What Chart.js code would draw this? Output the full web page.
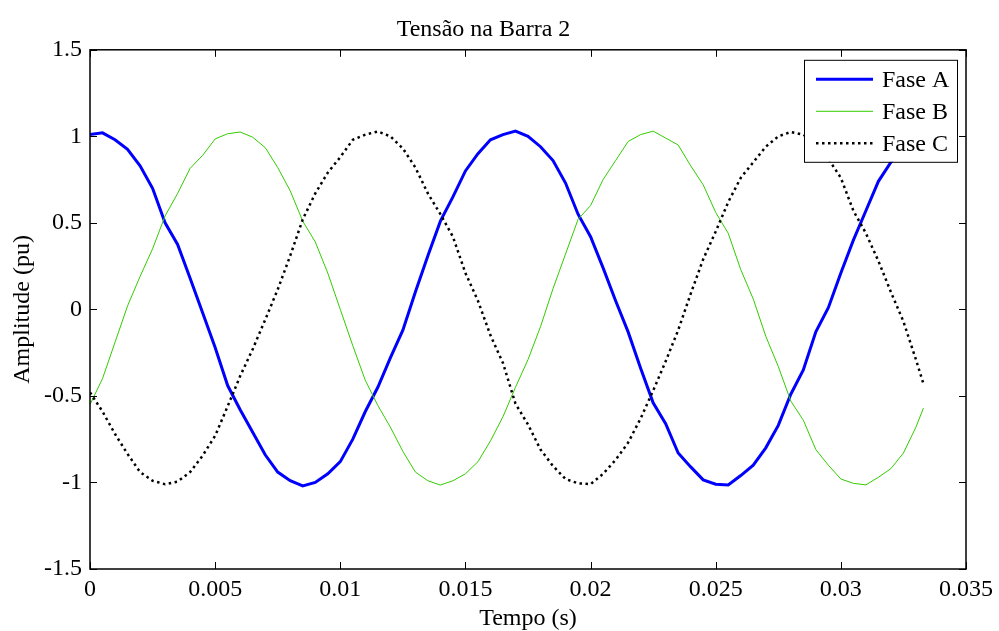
<!DOCTYPE html>
<html>
<head>
<meta charset="utf-8">
<title>Tensão na Barra 2</title>
<script src="https://cdn.jsdelivr.net/npm/chart.js@4.4.0/dist/chart.umd.min.js"></script>
<style>
  html, body { margin: 0; padding: 0; background: #fff; }
</style>
</head>
<body>
<canvas id="myChart" width="999" height="631"></canvas>
<script>
// tempo (s)
var tempo = [0, 0.0005, 0.001, 0.0015, 0.002, 0.0025, 0.003, 0.0035, 0.004, 0.0045,
  0.005, 0.0055, 0.006, 0.0065, 0.007, 0.0075, 0.008, 0.0085, 0.009, 0.0095,
  0.01, 0.0105, 0.011, 0.0115, 0.012, 0.0125, 0.013, 0.0135, 0.014, 0.0145,
  0.015, 0.0155, 0.016, 0.0165, 0.017, 0.0175, 0.018, 0.0185, 0.019, 0.0195,
  0.02, 0.0205, 0.021, 0.0215, 0.022, 0.0225, 0.023, 0.0235, 0.024, 0.0245,
  0.025, 0.0255, 0.026, 0.0265, 0.027, 0.0275, 0.028, 0.0285, 0.029, 0.0295,
  0.03, 0.0305, 0.031, 0.0315, 0.032, 0.0325, 0.033, 0.0333];

// amplitude (pu)
var faseA = [1.01, 1.02, 0.98, 0.925, 0.83, 0.70, 0.50, 0.375, 0.18, -0.02,
  -0.22, -0.44, -0.58, -0.71, -0.84, -0.94, -0.99, -1.02, -1.0, -0.95,
  -0.88, -0.75, -0.59, -0.45, -0.28, -0.12, 0.10, 0.31, 0.51, 0.65,
  0.80, 0.90, 0.98, 1.01, 1.03, 1.0, 0.94, 0.86, 0.73, 0.55,
  0.42, 0.24, 0.05, -0.13, -0.34, -0.54, -0.66, -0.83, -0.91, -0.985,
  -1.01, -1.015, -0.96, -0.90, -0.80, -0.67, -0.49, -0.35, -0.13, 0.01,
  0.21, 0.40, 0.57, 0.74, 0.85, 0.93, 0.99, 1.0];

var faseB = [-0.55, -0.40, -0.19, 0.02, 0.19, 0.35, 0.54, 0.67, 0.815, 0.89,
  0.985, 1.015, 1.025, 0.995, 0.935, 0.82, 0.685, 0.51, 0.39, 0.21,
  0.0, -0.21, -0.41, -0.555, -0.68, -0.82, -0.94, -0.99, -1.015, -0.99,
  -0.95, -0.88, -0.76, -0.62, -0.45, -0.29, -0.10, 0.12, 0.32, 0.52,
  0.60, 0.75, 0.86, 0.97, 1.01, 1.03, 0.99, 0.95, 0.83, 0.72,
  0.56, 0.44, 0.23, 0.06, -0.155, -0.33, -0.53, -0.64, -0.81, -0.90,
  -0.98, -1.005, -1.014, -0.97, -0.92, -0.83, -0.68, -0.57];

var faseC = [-0.48, -0.59, -0.72, -0.835, -0.94, -0.99, -1.01, -0.995, -0.94, -0.845,
  -0.73, -0.56, -0.385, -0.23, -0.06, 0.115, 0.31, 0.52, 0.67, 0.79,
  0.88, 0.98, 1.01, 1.028, 1.0, 0.93, 0.82, 0.67, 0.55, 0.42,
  0.21, 0.05, -0.15, -0.31, -0.545, -0.665, -0.81, -0.905, -0.98, -1.005,
  -1.01, -0.95, -0.87, -0.77, -0.63, -0.47, -0.30, -0.12, 0.09, 0.29,
  0.45, 0.62, 0.76, 0.85, 0.94, 1.0, 1.025, 1.01, 0.96, 0.87,
  0.76, 0.57, 0.44, 0.28, 0.10, -0.07, -0.29, -0.43];

var rotulos = ['Fase A', 'Fase B', 'Fase C'];

var fonte = 'Liberation Serif, Times New Roman, serif';

function pares(valores) {
  return tempo.map(function(t, i) { return { x: t, y: valores[i] }; });
}

// caixa do eixo, ticks para dentro e legenda (estilo MATLAB)
var caixaPlugin = {
  id: 'caixa',
  afterDatasetsDraw: function(chart) {
    var ctx = chart.ctx;
    var a = chart.chartArea;
    var xs = chart.scales.x;
    var ys = chart.scales.y;
    ctx.save();

    ctx.strokeStyle = '#000';
    ctx.lineWidth = 1;
    ctx.beginPath();
    xs.ticks.forEach(function(t) {
      var px = Math.round(xs.getPixelForValue(t.value)) + 0.5;
      ctx.moveTo(px, a.bottom); ctx.lineTo(px, a.bottom - 7);
      ctx.moveTo(px, a.top); ctx.lineTo(px, a.top + 7);
    });
    ys.ticks.forEach(function(t) {
      var py = Math.round(ys.getPixelForValue(t.value)) + 0.5;
      ctx.moveTo(a.left, py); ctx.lineTo(a.left + 7, py);
      ctx.moveTo(a.right, py); ctx.lineTo(a.right - 7, py);
    });
    ctx.stroke();

    ctx.lineWidth = 1.5;
    ctx.strokeRect(a.left, a.top, a.right - a.left, a.bottom - a.top);

    // legenda
    var lx = a.right - 162, ly = a.top + 10, lw = 153, lh = 102;
    ctx.fillStyle = '#fff';
    ctx.fillRect(lx, ly, lw, lh);
    ctx.lineWidth = 1;
    ctx.strokeRect(lx + 0.5, ly + 0.5, lw, lh);
    ctx.font = '24px ' + fonte;
    ctx.textBaseline = 'middle';
    ctx.textAlign = 'left';
    chart.data.datasets.forEach(function(ds, i) {
      var yy = ly + 19.5 + i * 32;
      ctx.beginPath();
      ctx.strokeStyle = ds.borderColor;
      ctx.lineWidth = ds.borderWidth;
      ctx.setLineDash(ds.borderDash || []);
      ctx.moveTo(lx + 12, yy);
      ctx.lineTo(lx + 69, yy);
      ctx.stroke();
      ctx.setLineDash([]);
      ctx.fillStyle = '#000';
      ctx.fillText(ds.label, lx + 78, yy + 1);
    });

    ctx.restore();
  }
};

var ctx = document.getElementById('myChart').getContext('2d');
var chart = new Chart(ctx, {
  type: 'line',
  data: {
    datasets: [{
      label: rotulos[0],
      data: pares(faseA),
      borderColor: '#0000ff',
      borderWidth: 3,
      order: 2
    }, {
      label: rotulos[1],
      data: pares(faseB),
      borderColor: '#33cc00',
      borderWidth: 1,
      order: 1
    }, {
      label: rotulos[2],
      data: pares(faseC),
      borderColor: '#000000',
      borderWidth: 2.5,
      borderDash: [2.5, 3.5],
      order: 0
    }]
  },
  options: {
    responsive: false,
    animation: false,
    events: [],
    layout: { padding: { top: 0, right: 32, left: 0, bottom: 0 } },
    elements: {
      point: { radius: 0 },
      line: { tension: 0, fill: false }
    },
    plugins: {
      legend: { display: false },
      tooltip: { enabled: false },
      title: {
        display: true,
        text: 'Tensão na Barra 2',
        color: '#000',
        font: { family: fonte, size: 24, weight: 'normal' },
        padding: { top: 15, bottom: 6 }
      }
    },
    scales: {
      x: {
        type: 'linear',
        min: 0,
        max: 0.035,
        grid: { display: false, drawTicks: false },
        border: { display: false },
        afterFit: function(scale) { scale.height = 62; },
        ticks: {
          stepSize: 0.005,
          padding: 6,
          color: '#000',
          font: { family: fonte, size: 24 },
          maxRotation: 0,
          callback: function(v) { return String(parseFloat(v.toFixed(3))); }
        },
        title: {
          display: true,
          text: 'Tempo (s)',
          color: '#000',
          font: { family: fonte, size: 24, lineHeight: 1.0 },
          padding: { top: 0, bottom: 0 }
        }
      },
      y: {
        min: -1.5,
        max: 1.5,
        grid: { display: false, drawTicks: false },
        border: { display: false },
        afterFit: function(scale) { scale.width = 90; },
        ticks: {
          stepSize: 0.5,
          padding: 8,
          color: '#000',
          font: { family: fonte, size: 24 },
          callback: function(v) { return String(parseFloat(v.toFixed(2))); }
        },
        title: {
          display: true,
          text: 'Amplitude (pu)',
          color: '#000',
          font: { family: fonte, size: 24 },
          padding: { top: 8, bottom: 0 }
        }
      }
    }
  },
  plugins: [caixaPlugin]
});
</script>
</body>
</html>
